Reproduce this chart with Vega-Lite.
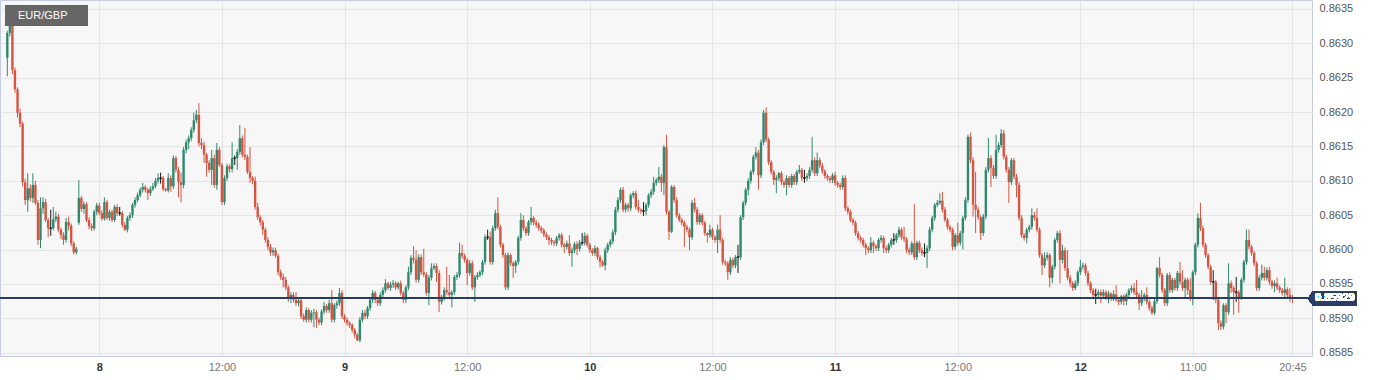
{
"$schema":"https://vega.github.io/schema/vega-lite/v6.json",
"width":1312,"height":356,
"autosize":{"type":"none"},
"padding":{"left":0,"top":0,"right":70,"bottom":24},
"background":"#ffffff",
"config":{"view":{"fill":"#f7f7f7","stroke":"#c6cce6","strokeWidth":1},"font":"Liberation Sans",
 "axis":{"labelFontSize":11,"ticks":false,"domain":false,"grid":true,"gridColor":"#e4e4e4","labelFlush":false,"labelOverlap":false}},
"data":{"values":[
{"i":-36,"o":0.86279,"h":0.86318,"l":0.86252,"c":0.86315},
{"i":-35,"o":0.86315,"h":0.86356,"l":0.8631,"c":0.86335},
{"i":-34,"o":0.86335,"h":0.8634,"l":0.86255,"c":0.86261},
{"i":-33,"o":0.86261,"h":0.86265,"l":0.86228,"c":0.86233},
{"i":-32,"o":0.86233,"h":0.86236,"l":0.86192,"c":0.86199},
{"i":-31,"o":0.86199,"h":0.86205,"l":0.86178,"c":0.86183},
{"i":-30,"o":0.86183,"h":0.86186,"l":0.86092,"c":0.86098},
{"i":-29,"o":0.86098,"h":0.86103,"l":0.86065,"c":0.86072},
{"i":-28,"o":0.86072,"h":0.86111,"l":0.86055,"c":0.86089},
{"i":-27,"o":0.86089,"h":0.86095,"l":0.8607,"c":0.86075},
{"i":-26,"o":0.86075,"h":0.86111,"l":0.86068,"c":0.86094},
{"i":-25,"o":0.86094,"h":0.861,"l":0.86065,"c":0.86068},
{"i":-24,"o":0.86068,"h":0.86072,"l":0.86007,"c":0.86014},
{"i":-23,"o":0.86014,"h":0.86076,"l":0.86002,"c":0.8606},
{"i":-22,"o":0.8606,"h":0.86076,"l":0.86052,"c":0.86069},
{"i":-21,"o":0.86069,"h":0.86074,"l":0.8604,"c":0.86043},
{"i":-20,"o":0.86043,"h":0.86046,"l":0.86018,"c":0.86031},
{"i":-19,"o":0.86031,"h":0.86058,"l":0.8602,"c":0.86031},
{"i":-18,"o":0.86031,"h":0.86062,"l":0.86028,"c":0.86044},
{"i":-17,"o":0.86044,"h":0.86055,"l":0.8604,"c":0.86048},
{"i":-16,"o":0.86048,"h":0.86052,"l":0.86025,"c":0.86029},
{"i":-15,"o":0.86029,"h":0.86032,"l":0.86015,"c":0.86021},
{"i":-14,"o":0.86021,"h":0.86025,"l":0.86007,"c":0.86014},
{"i":-13,"o":0.86014,"h":0.86046,"l":0.8601,"c":0.8604},
{"i":-12,"o":0.8604,"h":0.86048,"l":0.86028,"c":0.86035},
{"i":-11,"o":0.86035,"h":0.86038,"l":0.86005,"c":0.86009},
{"i":-10,"o":0.86009,"h":0.86012,"l":0.85993,"c":0.85996},
{"i":-9,"o":0.85996,"h":0.86004,"l":0.85993,"c":0.86001},
{"i":-8,"o":0.86039,"h":0.86101,"l":0.86036,"c":0.86075},
{"i":-7,"o":0.86075,"h":0.86078,"l":0.86055,"c":0.86059},
{"i":-6,"o":0.86059,"h":0.8607,"l":0.86052,"c":0.86066},
{"i":-5,"o":0.86066,"h":0.86069,"l":0.8604,"c":0.86043},
{"i":-4,"o":0.86043,"h":0.86047,"l":0.8603,"c":0.86034},
{"i":-3,"o":0.86034,"h":0.86038,"l":0.86027,"c":0.86031},
{"i":-2,"o":0.86031,"h":0.86058,"l":0.86028,"c":0.86055},
{"i":-1,"o":0.86055,"h":0.86068,"l":0.8605,"c":0.86064},
{"i":0,"o":0.86064,"h":0.86068,"l":0.8605,"c":0.86053},
{"i":1,"o":0.86053,"h":0.86057,"l":0.86042,"c":0.86045},
{"i":2,"o":0.86045,"h":0.86076,"l":0.86042,"c":0.86069},
{"i":3,"o":0.86069,"h":0.86072,"l":0.86043,"c":0.86046},
{"i":4,"o":0.86046,"h":0.86058,"l":0.86042,"c":0.86055},
{"i":5,"o":0.86055,"h":0.86058,"l":0.8604,"c":0.86043},
{"i":6,"o":0.86043,"h":0.86065,"l":0.8604,"c":0.86062},
{"i":7,"o":0.86062,"h":0.86066,"l":0.86049,"c":0.86053},
{"i":8,"o":0.86053,"h":0.86062,"l":0.86049,"c":0.86053},
{"i":9,"o":0.86053,"h":0.86056,"l":0.86032,"c":0.86036},
{"i":10,"o":0.86036,"h":0.8604,"l":0.86027,"c":0.86029},
{"i":11,"o":0.86029,"h":0.86049,"l":0.86025,"c":0.86046},
{"i":12,"o":0.86046,"h":0.86054,"l":0.86042,"c":0.8605},
{"i":13,"o":0.8605,"h":0.86068,"l":0.86046,"c":0.86065},
{"i":14,"o":0.86065,"h":0.86076,"l":0.86061,"c":0.86072},
{"i":15,"o":0.86072,"h":0.86083,"l":0.86069,"c":0.86079},
{"i":16,"o":0.86079,"h":0.8609,"l":0.86076,"c":0.86087},
{"i":17,"o":0.86087,"h":0.86097,"l":0.86083,"c":0.86091},
{"i":18,"o":0.86091,"h":0.86094,"l":0.86083,"c":0.86087},
{"i":19,"o":0.86087,"h":0.8609,"l":0.86072,"c":0.86082},
{"i":20,"o":0.86082,"h":0.86092,"l":0.86078,"c":0.86088},
{"i":21,"o":0.86088,"h":0.86097,"l":0.86085,"c":0.86092},
{"i":22,"o":0.86092,"h":0.86104,"l":0.86089,"c":0.861},
{"i":23,"o":0.861,"h":0.86111,"l":0.86096,"c":0.86104},
{"i":24,"o":0.86104,"h":0.86112,"l":0.86096,"c":0.86104},
{"i":25,"o":0.86104,"h":0.86107,"l":0.86085,"c":0.86088},
{"i":26,"o":0.86088,"h":0.8609,"l":0.86084,"c":0.86086},
{"i":27,"o":0.86086,"h":0.86111,"l":0.86083,"c":0.86104},
{"i":28,"o":0.86104,"h":0.86108,"l":0.86084,"c":0.86092},
{"i":29,"o":0.86092,"h":0.86137,"l":0.86088,"c":0.86133},
{"i":30,"o":0.86133,"h":0.86136,"l":0.86112,"c":0.86116},
{"i":31,"o":0.86116,"h":0.8612,"l":0.86076,"c":0.86098},
{"i":32,"o":0.86098,"h":0.86112,"l":0.86069,"c":0.86094},
{"i":33,"o":0.86094,"h":0.86149,"l":0.86089,"c":0.86145},
{"i":34,"o":0.86145,"h":0.8616,"l":0.8614,"c":0.86156},
{"i":35,"o":0.86156,"h":0.86166,"l":0.86146,"c":0.86162},
{"i":36,"o":0.86162,"h":0.86178,"l":0.86158,"c":0.86174},
{"i":37,"o":0.86174,"h":0.86199,"l":0.8617,"c":0.86188},
{"i":38,"o":0.86188,"h":0.86203,"l":0.86184,"c":0.86196},
{"i":39,"o":0.86196,"h":0.86213,"l":0.8615,"c":0.86155},
{"i":40,"o":0.86155,"h":0.86162,"l":0.86146,"c":0.86152},
{"i":41,"o":0.86152,"h":0.86157,"l":0.86126,"c":0.86138},
{"i":42,"o":0.86138,"h":0.86141,"l":0.86106,"c":0.86126},
{"i":43,"o":0.86126,"h":0.8613,"l":0.86112,"c":0.86116},
{"i":44,"o":0.86116,"h":0.86145,"l":0.86094,"c":0.86133},
{"i":45,"o":0.86133,"h":0.86138,"l":0.8609,"c":0.86094},
{"i":46,"o":0.86094,"h":0.86155,"l":0.86087,"c":0.86145},
{"i":47,"o":0.86145,"h":0.86149,"l":0.8612,"c":0.86123},
{"i":48,"o":0.86123,"h":0.86126,"l":0.86065,"c":0.86069},
{"i":49,"o":0.86069,"h":0.86108,"l":0.86065,"c":0.86104},
{"i":50,"o":0.86104,"h":0.86125,"l":0.861,"c":0.86121},
{"i":51,"o":0.86121,"h":0.86124,"l":0.86112,"c":0.86117},
{"i":52,"o":0.86117,"h":0.86156,"l":0.86112,"c":0.86133},
{"i":53,"o":0.86133,"h":0.86137,"l":0.86123,"c":0.86133},
{"i":54,"o":0.86133,"h":0.86146,"l":0.86116,"c":0.86142},
{"i":55,"o":0.86142,"h":0.86181,"l":0.86138,"c":0.86162},
{"i":56,"o":0.86162,"h":0.86166,"l":0.86134,"c":0.86138},
{"i":57,"o":0.86138,"h":0.86177,"l":0.8613,"c":0.86135},
{"i":58,"o":0.86135,"h":0.86138,"l":0.8611,"c":0.86113},
{"i":59,"o":0.86113,"h":0.86149,"l":0.86097,"c":0.86104},
{"i":60,"o":0.86104,"h":0.86107,"l":0.86095,"c":0.861},
{"i":61,"o":0.861,"h":0.86106,"l":0.86058,"c":0.86062},
{"i":62,"o":0.86062,"h":0.86068,"l":0.86043,"c":0.86047},
{"i":63,"o":0.86047,"h":0.8605,"l":0.86035,"c":0.8604},
{"i":64,"o":0.8604,"h":0.86043,"l":0.86021,"c":0.86029},
{"i":65,"o":0.86029,"h":0.86032,"l":0.8601,"c":0.86014},
{"i":66,"o":0.86014,"h":0.86018,"l":0.85999,"c":0.86004},
{"i":67,"o":0.86004,"h":0.86008,"l":0.85991,"c":0.85996},
{"i":68,"o":0.85996,"h":0.86003,"l":0.85991,"c":0.85999},
{"i":69,"o":0.85999,"h":0.86003,"l":0.85988,"c":0.85991},
{"i":70,"o":0.85991,"h":0.85994,"l":0.85963,"c":0.85967},
{"i":71,"o":0.85967,"h":0.85971,"l":0.85956,"c":0.8596},
{"i":72,"o":0.8596,"h":0.85965,"l":0.85945,"c":0.85956},
{"i":73,"o":0.85956,"h":0.8596,"l":0.85941,"c":0.85945},
{"i":74,"o":0.85945,"h":0.85948,"l":0.85924,"c":0.85931},
{"i":75,"o":0.85931,"h":0.85938,"l":0.85922,"c":0.85934},
{"i":76,"o":0.85934,"h":0.85938,"l":0.85923,"c":0.85927},
{"i":77,"o":0.85927,"h":0.85938,"l":0.85918,"c":0.85922},
{"i":78,"o":0.85922,"h":0.85929,"l":0.85917,"c":0.85926},
{"i":79,"o":0.85926,"h":0.85929,"l":0.85899,"c":0.85903},
{"i":80,"o":0.85903,"h":0.85907,"l":0.85895,"c":0.85898},
{"i":81,"o":0.85898,"h":0.85916,"l":0.85894,"c":0.85912},
{"i":82,"o":0.85912,"h":0.85915,"l":0.85894,"c":0.85898},
{"i":83,"o":0.85898,"h":0.85912,"l":0.85894,"c":0.85908},
{"i":84,"o":0.85908,"h":0.85914,"l":0.85887,"c":0.85909},
{"i":85,"o":0.85909,"h":0.85912,"l":0.85886,"c":0.85898},
{"i":86,"o":0.85898,"h":0.85901,"l":0.8589,"c":0.85894},
{"i":87,"o":0.85894,"h":0.85913,"l":0.8589,"c":0.8591},
{"i":88,"o":0.8591,"h":0.85924,"l":0.85906,"c":0.85918},
{"i":89,"o":0.85918,"h":0.85921,"l":0.85908,"c":0.85912},
{"i":90,"o":0.85912,"h":0.85927,"l":0.85908,"c":0.85922},
{"i":91,"o":0.85922,"h":0.85941,"l":0.85894,"c":0.85898},
{"i":92,"o":0.85898,"h":0.85922,"l":0.85894,"c":0.85919},
{"i":93,"o":0.85919,"h":0.85926,"l":0.85914,"c":0.85922},
{"i":94,"o":0.85922,"h":0.85944,"l":0.85918,"c":0.85937},
{"i":95,"o":0.85937,"h":0.85941,"l":0.85899,"c":0.85903},
{"i":96,"o":0.85903,"h":0.85906,"l":0.85894,"c":0.85898},
{"i":97,"o":0.85898,"h":0.85901,"l":0.85889,"c":0.85893},
{"i":98,"o":0.85893,"h":0.85896,"l":0.85886,"c":0.8589},
{"i":99,"o":0.8589,"h":0.85893,"l":0.85879,"c":0.85883},
{"i":100,"o":0.85883,"h":0.85886,"l":0.85871,"c":0.85876},
{"i":101,"o":0.85876,"h":0.85879,"l":0.85867,"c":0.85868},
{"i":102,"o":0.85868,"h":0.85902,"l":0.85865,"c":0.85898},
{"i":103,"o":0.85898,"h":0.85912,"l":0.85894,"c":0.85908},
{"i":104,"o":0.85908,"h":0.85912,"l":0.85899,"c":0.85903},
{"i":105,"o":0.85903,"h":0.85918,"l":0.85899,"c":0.85915},
{"i":106,"o":0.85915,"h":0.8593,"l":0.85911,"c":0.85927},
{"i":107,"o":0.85927,"h":0.85941,"l":0.85922,"c":0.85937},
{"i":108,"o":0.85937,"h":0.8594,"l":0.85922,"c":0.85927},
{"i":109,"o":0.85927,"h":0.8593,"l":0.85918,"c":0.85922},
{"i":110,"o":0.85922,"h":0.85938,"l":0.85918,"c":0.85934},
{"i":111,"o":0.85934,"h":0.85945,"l":0.8593,"c":0.85941},
{"i":112,"o":0.85941,"h":0.85957,"l":0.85937,"c":0.85951},
{"i":113,"o":0.85951,"h":0.85953,"l":0.85941,"c":0.85944},
{"i":114,"o":0.85944,"h":0.85953,"l":0.8594,"c":0.85949},
{"i":115,"o":0.85949,"h":0.85956,"l":0.85944,"c":0.85951},
{"i":116,"o":0.85951,"h":0.85954,"l":0.85941,"c":0.85945},
{"i":117,"o":0.85945,"h":0.85953,"l":0.85942,"c":0.85951},
{"i":118,"o":0.85951,"h":0.85955,"l":0.85933,"c":0.85937},
{"i":119,"o":0.85937,"h":0.8594,"l":0.85922,"c":0.85927},
{"i":120,"o":0.85927,"h":0.85948,"l":0.85922,"c":0.85945},
{"i":121,"o":0.85945,"h":0.85975,"l":0.85941,"c":0.85967},
{"i":122,"o":0.85967,"h":0.85992,"l":0.85963,"c":0.85988},
{"i":123,"o":0.85988,"h":0.86005,"l":0.8598,"c":0.85985},
{"i":124,"o":0.85985,"h":0.85999,"l":0.85952,"c":0.85956},
{"i":125,"o":0.85956,"h":0.85993,"l":0.85952,"c":0.85989},
{"i":126,"o":0.85989,"h":0.85993,"l":0.85963,"c":0.85967},
{"i":127,"o":0.85967,"h":0.86001,"l":0.8596,"c":0.85964},
{"i":128,"o":0.85964,"h":0.85967,"l":0.85933,"c":0.85937},
{"i":129,"o":0.85937,"h":0.85963,"l":0.85919,"c":0.85959},
{"i":130,"o":0.85959,"h":0.8598,"l":0.85955,"c":0.85973},
{"i":131,"o":0.85973,"h":0.8598,"l":0.8597,"c":0.85976},
{"i":132,"o":0.85976,"h":0.8598,"l":0.85953,"c":0.85966},
{"i":133,"o":0.85966,"h":0.8597,"l":0.85909,"c":0.85924},
{"i":134,"o":0.85924,"h":0.85934,"l":0.8592,"c":0.8593},
{"i":135,"o":0.8593,"h":0.85945,"l":0.85926,"c":0.85941},
{"i":136,"o":0.85941,"h":0.85975,"l":0.85934,"c":0.85938},
{"i":137,"o":0.85938,"h":0.85963,"l":0.85931,"c":0.85934},
{"i":138,"o":0.85934,"h":0.85941,"l":0.85916,"c":0.85938},
{"i":139,"o":0.85938,"h":0.85963,"l":0.85934,"c":0.8596},
{"i":140,"o":0.8596,"h":0.85967,"l":0.85956,"c":0.85963},
{"i":141,"o":0.85963,"h":0.8601,"l":0.85959,"c":0.85995},
{"i":142,"o":0.85995,"h":0.86007,"l":0.85987,"c":0.85991},
{"i":143,"o":0.85991,"h":0.85994,"l":0.85981,"c":0.85985},
{"i":144,"o":0.85985,"h":0.85988,"l":0.85948,"c":0.85966},
{"i":145,"o":0.85966,"h":0.85985,"l":0.85962,"c":0.8598},
{"i":146,"o":0.8598,"h":0.85984,"l":0.85941,"c":0.85945},
{"i":147,"o":0.85945,"h":0.85963,"l":0.85924,"c":0.8596},
{"i":148,"o":0.8596,"h":0.85967,"l":0.85956,"c":0.85963},
{"i":149,"o":0.85963,"h":0.8597,"l":0.8596,"c":0.85967},
{"i":150,"o":0.85967,"h":0.85985,"l":0.85963,"c":0.85982},
{"i":151,"o":0.85982,"h":0.86022,"l":0.85978,"c":0.86018},
{"i":152,"o":0.86018,"h":0.86029,"l":0.86014,"c":0.86018},
{"i":153,"o":0.86018,"h":0.86026,"l":0.85978,"c":0.85982},
{"i":154,"o":0.85982,"h":0.86035,"l":0.85978,"c":0.86031},
{"i":155,"o":0.86031,"h":0.86058,"l":0.86027,"c":0.86053},
{"i":156,"o":0.86053,"h":0.86076,"l":0.86029,"c":0.86033},
{"i":157,"o":0.86033,"h":0.86036,"l":0.86003,"c":0.86007},
{"i":158,"o":0.86007,"h":0.8601,"l":0.85988,"c":0.85992},
{"i":159,"o":0.85992,"h":0.85995,"l":0.85941,"c":0.85945},
{"i":160,"o":0.85945,"h":0.85996,"l":0.85941,"c":0.85992},
{"i":161,"o":0.85992,"h":0.85994,"l":0.85976,"c":0.8598},
{"i":162,"o":0.8598,"h":0.85983,"l":0.85959,"c":0.85976},
{"i":163,"o":0.85976,"h":0.85985,"l":0.85966,"c":0.85982},
{"i":164,"o":0.85982,"h":0.8602,"l":0.85978,"c":0.86017},
{"i":165,"o":0.86017,"h":0.86053,"l":0.86013,"c":0.86043},
{"i":166,"o":0.86043,"h":0.8605,"l":0.86027,"c":0.86031},
{"i":167,"o":0.86031,"h":0.86034,"l":0.8602,"c":0.86024},
{"i":168,"o":0.86024,"h":0.86043,"l":0.8602,"c":0.8604},
{"i":169,"o":0.8604,"h":0.86062,"l":0.86036,"c":0.86046},
{"i":170,"o":0.86046,"h":0.86049,"l":0.86035,"c":0.86039},
{"i":171,"o":0.86039,"h":0.86043,"l":0.86032,"c":0.86036},
{"i":172,"o":0.86036,"h":0.8604,"l":0.86027,"c":0.86031},
{"i":173,"o":0.86031,"h":0.86034,"l":0.86024,"c":0.86028},
{"i":174,"o":0.86028,"h":0.86031,"l":0.86018,"c":0.86022},
{"i":175,"o":0.86022,"h":0.86025,"l":0.86014,"c":0.86018},
{"i":176,"o":0.86018,"h":0.86021,"l":0.86007,"c":0.86014},
{"i":177,"o":0.86014,"h":0.86017,"l":0.86007,"c":0.86011},
{"i":178,"o":0.86011,"h":0.86014,"l":0.86005,"c":0.86009},
{"i":179,"o":0.86009,"h":0.8602,"l":0.86005,"c":0.86017},
{"i":180,"o":0.86017,"h":0.86024,"l":0.86013,"c":0.86021},
{"i":181,"o":0.86021,"h":0.86024,"l":0.86003,"c":0.86007},
{"i":182,"o":0.86007,"h":0.8601,"l":0.85995,"c":0.86004},
{"i":183,"o":0.86004,"h":0.86013,"l":0.86,"c":0.86009},
{"i":184,"o":0.86009,"h":0.86021,"l":0.85991,"c":0.85995},
{"i":185,"o":0.85995,"h":0.86003,"l":0.85975,"c":0.85999},
{"i":186,"o":0.85999,"h":0.86011,"l":0.85995,"c":0.86008},
{"i":187,"o":0.86008,"h":0.86012,"l":0.85992,"c":0.86001},
{"i":188,"o":0.86001,"h":0.86014,"l":0.85997,"c":0.8601},
{"i":189,"o":0.8601,"h":0.86024,"l":0.86006,"c":0.8601},
{"i":190,"o":0.8601,"h":0.86025,"l":0.86006,"c":0.8602},
{"i":191,"o":0.8602,"h":0.86023,"l":0.86003,"c":0.86007},
{"i":192,"o":0.86007,"h":0.8601,"l":0.85995,"c":0.85999},
{"i":193,"o":0.85999,"h":0.86002,"l":0.85991,"c":0.85995},
{"i":194,"o":0.85995,"h":0.86006,"l":0.85991,"c":0.86002},
{"i":195,"o":0.86002,"h":0.86004,"l":0.85985,"c":0.85989},
{"i":196,"o":0.85989,"h":0.85992,"l":0.85974,"c":0.85982},
{"i":197,"o":0.85982,"h":0.85985,"l":0.85975,"c":0.85977},
{"i":198,"o":0.85977,"h":0.86003,"l":0.8597,"c":0.85999},
{"i":199,"o":0.85999,"h":0.8601,"l":0.85995,"c":0.86007},
{"i":200,"o":0.86007,"h":0.86015,"l":0.86003,"c":0.86012},
{"i":201,"o":0.86012,"h":0.86029,"l":0.86008,"c":0.86025},
{"i":202,"o":0.86025,"h":0.86062,"l":0.86021,"c":0.86058},
{"i":203,"o":0.86058,"h":0.86076,"l":0.86054,"c":0.86072},
{"i":204,"o":0.86072,"h":0.8609,"l":0.86068,"c":0.86087},
{"i":205,"o":0.86087,"h":0.86091,"l":0.86054,"c":0.86058},
{"i":206,"o":0.86058,"h":0.86068,"l":0.86054,"c":0.86065},
{"i":207,"o":0.86065,"h":0.86068,"l":0.86055,"c":0.8606},
{"i":208,"o":0.8606,"h":0.86082,"l":0.86056,"c":0.86079},
{"i":209,"o":0.86079,"h":0.86085,"l":0.86075,"c":0.86082},
{"i":210,"o":0.86082,"h":0.86086,"l":0.86058,"c":0.86062},
{"i":211,"o":0.86062,"h":0.86072,"l":0.86054,"c":0.86058},
{"i":212,"o":0.86058,"h":0.8606,"l":0.86052,"c":0.86056},
{"i":213,"o":0.86056,"h":0.86069,"l":0.86049,"c":0.86056},
{"i":214,"o":0.86056,"h":0.86068,"l":0.8605,"c":0.86065},
{"i":215,"o":0.86065,"h":0.86082,"l":0.86061,"c":0.86079},
{"i":216,"o":0.86079,"h":0.86088,"l":0.86075,"c":0.86084},
{"i":217,"o":0.86084,"h":0.86106,"l":0.8608,"c":0.86097},
{"i":218,"o":0.86097,"h":0.86104,"l":0.86093,"c":0.86101},
{"i":219,"o":0.86101,"h":0.8612,"l":0.86097,"c":0.86106},
{"i":220,"o":0.86106,"h":0.8611,"l":0.86084,"c":0.86097},
{"i":221,"o":0.86097,"h":0.86152,"l":0.86079,"c":0.86149},
{"i":222,"o":0.86149,"h":0.86167,"l":0.86051,"c":0.86055},
{"i":223,"o":0.86055,"h":0.86058,"l":0.86014,"c":0.86026},
{"i":224,"o":0.86026,"h":0.86094,"l":0.86024,"c":0.86091},
{"i":225,"o":0.86091,"h":0.86094,"l":0.86068,"c":0.86072},
{"i":226,"o":0.86072,"h":0.86076,"l":0.86046,"c":0.8605},
{"i":227,"o":0.8605,"h":0.86053,"l":0.8604,"c":0.86043},
{"i":228,"o":0.86043,"h":0.86046,"l":0.86035,"c":0.86039},
{"i":229,"o":0.86039,"h":0.86042,"l":0.86004,"c":0.86033},
{"i":230,"o":0.86033,"h":0.86036,"l":0.86025,"c":0.86029},
{"i":231,"o":0.86029,"h":0.86032,"l":0.85999,"c":0.86018},
{"i":232,"o":0.86018,"h":0.86072,"l":0.86014,"c":0.86068},
{"i":233,"o":0.86068,"h":0.86075,"l":0.86054,"c":0.86058},
{"i":234,"o":0.86058,"h":0.86062,"l":0.86036,"c":0.8604},
{"i":235,"o":0.8604,"h":0.86053,"l":0.86036,"c":0.8605},
{"i":236,"o":0.8605,"h":0.86053,"l":0.86035,"c":0.86039},
{"i":237,"o":0.86039,"h":0.86042,"l":0.8602,"c":0.86024},
{"i":238,"o":0.86024,"h":0.86025,"l":0.8601,"c":0.86021},
{"i":239,"o":0.86021,"h":0.86036,"l":0.86017,"c":0.86029},
{"i":240,"o":0.86029,"h":0.86032,"l":0.86014,"c":0.86018},
{"i":241,"o":0.86018,"h":0.86021,"l":0.8601,"c":0.86014},
{"i":242,"o":0.86014,"h":0.86036,"l":0.85995,"c":0.86029},
{"i":243,"o":0.86029,"h":0.8605,"l":0.8601,"c":0.86014},
{"i":244,"o":0.86014,"h":0.86017,"l":0.85978,"c":0.85982},
{"i":245,"o":0.85982,"h":0.85985,"l":0.85976,"c":0.8598},
{"i":246,"o":0.8598,"h":0.85983,"l":0.85956,"c":0.85967},
{"i":247,"o":0.85967,"h":0.85989,"l":0.85963,"c":0.85985},
{"i":248,"o":0.85985,"h":0.85988,"l":0.85973,"c":0.85977},
{"i":249,"o":0.85977,"h":0.85992,"l":0.85973,"c":0.85989},
{"i":250,"o":0.85989,"h":0.86007,"l":0.85966,"c":0.85989},
{"i":251,"o":0.85989,"h":0.8605,"l":0.85985,"c":0.86047},
{"i":252,"o":0.86047,"h":0.86071,"l":0.86043,"c":0.86068},
{"i":253,"o":0.86068,"h":0.8609,"l":0.86064,"c":0.86087},
{"i":254,"o":0.86087,"h":0.86104,"l":0.86079,"c":0.861},
{"i":255,"o":0.861,"h":0.86116,"l":0.86096,"c":0.86113},
{"i":256,"o":0.86113,"h":0.86138,"l":0.86109,"c":0.86135},
{"i":257,"o":0.86135,"h":0.86149,"l":0.86131,"c":0.86141},
{"i":258,"o":0.86141,"h":0.86145,"l":0.86087,"c":0.86108},
{"i":259,"o":0.86108,"h":0.8616,"l":0.86104,"c":0.86156},
{"i":260,"o":0.86156,"h":0.86203,"l":0.86152,"c":0.86199},
{"i":261,"o":0.86199,"h":0.86207,"l":0.86156,"c":0.8616},
{"i":262,"o":0.8616,"h":0.86163,"l":0.86123,"c":0.86127},
{"i":263,"o":0.86127,"h":0.8613,"l":0.86109,"c":0.86113},
{"i":264,"o":0.86113,"h":0.86116,"l":0.86094,"c":0.86101},
{"i":265,"o":0.86101,"h":0.86108,"l":0.86082,"c":0.86104},
{"i":266,"o":0.86104,"h":0.86113,"l":0.861,"c":0.86111},
{"i":267,"o":0.86111,"h":0.86114,"l":0.86094,"c":0.86098},
{"i":268,"o":0.86098,"h":0.86101,"l":0.8609,"c":0.86094},
{"i":269,"o":0.86094,"h":0.86108,"l":0.86079,"c":0.86104},
{"i":270,"o":0.86104,"h":0.86107,"l":0.8609,"c":0.86094},
{"i":271,"o":0.86094,"h":0.8611,"l":0.8609,"c":0.86107},
{"i":272,"o":0.86107,"h":0.8611,"l":0.86094,"c":0.86098},
{"i":273,"o":0.86098,"h":0.86116,"l":0.86094,"c":0.86113},
{"i":274,"o":0.86113,"h":0.86123,"l":0.8611,"c":0.86116},
{"i":275,"o":0.86116,"h":0.86119,"l":0.861,"c":0.86104},
{"i":276,"o":0.86104,"h":0.86116,"l":0.86097,"c":0.86104},
{"i":277,"o":0.86104,"h":0.86111,"l":0.861,"c":0.86107},
{"i":278,"o":0.86107,"h":0.8612,"l":0.86103,"c":0.86116},
{"i":279,"o":0.86116,"h":0.86164,"l":0.86112,"c":0.8613},
{"i":280,"o":0.8613,"h":0.86134,"l":0.86107,"c":0.86111},
{"i":281,"o":0.86111,"h":0.86141,"l":0.86107,"c":0.8613},
{"i":282,"o":0.8613,"h":0.86134,"l":0.86118,"c":0.86122},
{"i":283,"o":0.86122,"h":0.86126,"l":0.8611,"c":0.86114},
{"i":284,"o":0.86114,"h":0.86117,"l":0.86103,"c":0.86107},
{"i":285,"o":0.86107,"h":0.8611,"l":0.861,"c":0.86104},
{"i":286,"o":0.86104,"h":0.86107,"l":0.86097,"c":0.86101},
{"i":287,"o":0.86101,"h":0.86111,"l":0.86097,"c":0.86108},
{"i":288,"o":0.86108,"h":0.86113,"l":0.86093,"c":0.86097},
{"i":289,"o":0.86097,"h":0.861,"l":0.8609,"c":0.86094},
{"i":290,"o":0.86094,"h":0.86097,"l":0.86087,"c":0.86091},
{"i":291,"o":0.86091,"h":0.86108,"l":0.86087,"c":0.86104},
{"i":292,"o":0.86104,"h":0.86108,"l":0.86056,"c":0.8606},
{"i":293,"o":0.8606,"h":0.86063,"l":0.86051,"c":0.86055},
{"i":294,"o":0.86055,"h":0.86058,"l":0.8604,"c":0.86043},
{"i":295,"o":0.86043,"h":0.86046,"l":0.86035,"c":0.86039},
{"i":296,"o":0.86039,"h":0.86042,"l":0.8602,"c":0.86024},
{"i":297,"o":0.86024,"h":0.86027,"l":0.86013,"c":0.86017},
{"i":298,"o":0.86017,"h":0.8602,"l":0.8601,"c":0.86014},
{"i":299,"o":0.86014,"h":0.86017,"l":0.86003,"c":0.86007},
{"i":300,"o":0.86007,"h":0.8601,"l":0.85992,"c":0.86002},
{"i":301,"o":0.86002,"h":0.86005,"l":0.85995,"c":0.85999},
{"i":302,"o":0.85999,"h":0.86018,"l":0.85995,"c":0.8601},
{"i":303,"o":0.8601,"h":0.86013,"l":0.85995,"c":0.86005},
{"i":304,"o":0.86005,"h":0.86008,"l":0.85998,"c":0.86002},
{"i":305,"o":0.86002,"h":0.86017,"l":0.85998,"c":0.86014},
{"i":306,"o":0.86014,"h":0.86021,"l":0.8601,"c":0.86017},
{"i":307,"o":0.86017,"h":0.8602,"l":0.85995,"c":0.86002},
{"i":308,"o":0.86002,"h":0.86005,"l":0.85995,"c":0.85999},
{"i":309,"o":0.85999,"h":0.8601,"l":0.85995,"c":0.86007},
{"i":310,"o":0.86007,"h":0.86017,"l":0.86003,"c":0.86014},
{"i":311,"o":0.86014,"h":0.86024,"l":0.86007,"c":0.86014},
{"i":312,"o":0.86014,"h":0.86024,"l":0.8601,"c":0.86021},
{"i":313,"o":0.86021,"h":0.86033,"l":0.86017,"c":0.86029},
{"i":314,"o":0.86029,"h":0.86032,"l":0.86014,"c":0.86018},
{"i":315,"o":0.86018,"h":0.86033,"l":0.86011,"c":0.86015},
{"i":316,"o":0.86015,"h":0.86018,"l":0.85995,"c":0.85999},
{"i":317,"o":0.85999,"h":0.86003,"l":0.85992,"c":0.85996},
{"i":318,"o":0.85996,"h":0.86012,"l":0.85992,"c":0.86009},
{"i":319,"o":0.86009,"h":0.86066,"l":0.85985,"c":0.85989},
{"i":320,"o":0.85989,"h":0.86013,"l":0.85985,"c":0.8601},
{"i":321,"o":0.8601,"h":0.86013,"l":0.85995,"c":0.85999},
{"i":322,"o":0.85999,"h":0.86003,"l":0.85991,"c":0.85995},
{"i":323,"o":0.85995,"h":0.86009,"l":0.85989,"c":0.85995},
{"i":324,"o":0.85995,"h":0.86006,"l":0.85973,"c":0.86002},
{"i":325,"o":0.86002,"h":0.86033,"l":0.85998,"c":0.86029},
{"i":326,"o":0.86029,"h":0.86049,"l":0.86025,"c":0.86046},
{"i":327,"o":0.86046,"h":0.86068,"l":0.86042,"c":0.86065},
{"i":328,"o":0.86065,"h":0.86072,"l":0.86062,"c":0.86068},
{"i":329,"o":0.86068,"h":0.86082,"l":0.86065,"c":0.86071},
{"i":330,"o":0.86071,"h":0.86084,"l":0.86054,"c":0.86058},
{"i":331,"o":0.86058,"h":0.86062,"l":0.8604,"c":0.86043},
{"i":332,"o":0.86043,"h":0.86046,"l":0.86029,"c":0.86033},
{"i":333,"o":0.86033,"h":0.86036,"l":0.86025,"c":0.86029},
{"i":334,"o":0.86029,"h":0.86032,"l":0.85999,"c":0.86004},
{"i":335,"o":0.86004,"h":0.86024,"l":0.86,"c":0.86021},
{"i":336,"o":0.86021,"h":0.86039,"l":0.86006,"c":0.8601},
{"i":337,"o":0.8601,"h":0.86027,"l":0.86006,"c":0.86024},
{"i":338,"o":0.86024,"h":0.86049,"l":0.86,"c":0.86046},
{"i":339,"o":0.86046,"h":0.86076,"l":0.86042,"c":0.86072},
{"i":340,"o":0.86072,"h":0.86167,"l":0.86068,"c":0.86164},
{"i":341,"o":0.86164,"h":0.8617,"l":0.86126,"c":0.8613},
{"i":342,"o":0.8613,"h":0.86134,"l":0.86048,"c":0.86065},
{"i":343,"o":0.86065,"h":0.86113,"l":0.86024,"c":0.86058},
{"i":344,"o":0.86058,"h":0.86062,"l":0.86043,"c":0.86047},
{"i":345,"o":0.86047,"h":0.8605,"l":0.86014,"c":0.86024},
{"i":346,"o":0.86024,"h":0.86052,"l":0.8602,"c":0.86048},
{"i":347,"o":0.86048,"h":0.8612,"l":0.86044,"c":0.86116},
{"i":348,"o":0.86116,"h":0.86162,"l":0.86112,"c":0.86133},
{"i":349,"o":0.86133,"h":0.86137,"l":0.86091,"c":0.86119},
{"i":350,"o":0.86119,"h":0.86123,"l":0.86103,"c":0.86107},
{"i":351,"o":0.86107,"h":0.86167,"l":0.86103,"c":0.86145},
{"i":352,"o":0.86145,"h":0.86156,"l":0.86141,"c":0.86152},
{"i":353,"o":0.86152,"h":0.86175,"l":0.86148,"c":0.86169},
{"i":354,"o":0.86169,"h":0.86174,"l":0.86131,"c":0.86135},
{"i":355,"o":0.86135,"h":0.86138,"l":0.86112,"c":0.86116},
{"i":356,"o":0.86116,"h":0.8612,"l":0.86068,"c":0.86098},
{"i":357,"o":0.86098,"h":0.86133,"l":0.86094,"c":0.8613},
{"i":358,"o":0.8613,"h":0.86133,"l":0.86102,"c":0.86106},
{"i":359,"o":0.86106,"h":0.8611,"l":0.86076,"c":0.86094},
{"i":360,"o":0.86094,"h":0.86098,"l":0.86042,"c":0.86046},
{"i":361,"o":0.86046,"h":0.8605,"l":0.86017,"c":0.86021},
{"i":362,"o":0.86021,"h":0.86024,"l":0.86013,"c":0.86017},
{"i":363,"o":0.86017,"h":0.86032,"l":0.86009,"c":0.86029},
{"i":364,"o":0.86029,"h":0.86036,"l":0.86025,"c":0.86033},
{"i":365,"o":0.86033,"h":0.8606,"l":0.86029,"c":0.8605},
{"i":366,"o":0.8605,"h":0.86055,"l":0.86042,"c":0.86046},
{"i":367,"o":0.86046,"h":0.8606,"l":0.86025,"c":0.86029},
{"i":368,"o":0.86029,"h":0.86032,"l":0.85988,"c":0.85992},
{"i":369,"o":0.85992,"h":0.85995,"l":0.85963,"c":0.85977},
{"i":370,"o":0.85977,"h":0.85996,"l":0.85973,"c":0.85988},
{"i":371,"o":0.85988,"h":0.85996,"l":0.85984,"c":0.85992},
{"i":372,"o":0.85992,"h":0.85995,"l":0.85945,"c":0.85959},
{"i":373,"o":0.85959,"h":0.85978,"l":0.85951,"c":0.85975},
{"i":374,"o":0.85975,"h":0.86017,"l":0.85971,"c":0.86014},
{"i":375,"o":0.86014,"h":0.86027,"l":0.8601,"c":0.86024},
{"i":376,"o":0.86024,"h":0.86028,"l":0.85951,"c":0.85985},
{"i":377,"o":0.85985,"h":0.86007,"l":0.8598,"c":0.85999},
{"i":378,"o":0.85999,"h":0.86003,"l":0.85969,"c":0.85973},
{"i":379,"o":0.85973,"h":0.85999,"l":0.85955,"c":0.85959},
{"i":380,"o":0.85959,"h":0.85963,"l":0.85946,"c":0.85951},
{"i":381,"o":0.85951,"h":0.85954,"l":0.8594,"c":0.85944},
{"i":382,"o":0.85944,"h":0.85955,"l":0.85941,"c":0.85951},
{"i":383,"o":0.85951,"h":0.8597,"l":0.85947,"c":0.85967},
{"i":384,"o":0.85967,"h":0.85985,"l":0.85963,"c":0.85975},
{"i":385,"o":0.85975,"h":0.85981,"l":0.85971,"c":0.85977},
{"i":386,"o":0.85977,"h":0.8598,"l":0.85962,"c":0.85966},
{"i":387,"o":0.85966,"h":0.85969,"l":0.85947,"c":0.85951},
{"i":388,"o":0.85951,"h":0.85954,"l":0.85937,"c":0.85941},
{"i":389,"o":0.85941,"h":0.85944,"l":0.8593,"c":0.85934},
{"i":390,"o":0.85934,"h":0.85943,"l":0.85921,"c":0.85934},
{"i":391,"o":0.85934,"h":0.85942,"l":0.8593,"c":0.85938},
{"i":392,"o":0.85938,"h":0.85942,"l":0.85922,"c":0.85933},
{"i":393,"o":0.85933,"h":0.85942,"l":0.85929,"c":0.85938},
{"i":394,"o":0.85938,"h":0.85941,"l":0.85927,"c":0.85931},
{"i":395,"o":0.85931,"h":0.8594,"l":0.85922,"c":0.85936},
{"i":396,"o":0.85936,"h":0.85938,"l":0.85925,"c":0.85929},
{"i":397,"o":0.85929,"h":0.85941,"l":0.85925,"c":0.85935},
{"i":398,"o":0.85935,"h":0.85948,"l":0.85924,"c":0.85927},
{"i":399,"o":0.85927,"h":0.8593,"l":0.85919,"c":0.85924},
{"i":400,"o":0.85924,"h":0.85934,"l":0.8592,"c":0.85932},
{"i":401,"o":0.85932,"h":0.85935,"l":0.85919,"c":0.85925},
{"i":402,"o":0.85925,"h":0.85937,"l":0.85919,"c":0.85934},
{"i":403,"o":0.85934,"h":0.85944,"l":0.8593,"c":0.85941},
{"i":404,"o":0.85941,"h":0.85948,"l":0.85937,"c":0.85944},
{"i":405,"o":0.85944,"h":0.85951,"l":0.85934,"c":0.85938},
{"i":406,"o":0.85938,"h":0.85956,"l":0.8593,"c":0.85934},
{"i":407,"o":0.85934,"h":0.85937,"l":0.85912,"c":0.85922},
{"i":408,"o":0.85922,"h":0.85941,"l":0.85918,"c":0.85929},
{"i":409,"o":0.85929,"h":0.85937,"l":0.85925,"c":0.85934},
{"i":410,"o":0.85934,"h":0.85945,"l":0.8592,"c":0.85924},
{"i":411,"o":0.85924,"h":0.85927,"l":0.85911,"c":0.85915},
{"i":412,"o":0.85915,"h":0.85918,"l":0.85905,"c":0.85908},
{"i":413,"o":0.85908,"h":0.85929,"l":0.85905,"c":0.85925},
{"i":414,"o":0.85925,"h":0.85975,"l":0.85921,"c":0.85973},
{"i":415,"o":0.85973,"h":0.85989,"l":0.85959,"c":0.85963},
{"i":416,"o":0.85963,"h":0.85966,"l":0.85937,"c":0.85941},
{"i":417,"o":0.85941,"h":0.85944,"l":0.85918,"c":0.85922},
{"i":418,"o":0.85922,"h":0.85966,"l":0.85918,"c":0.85963},
{"i":419,"o":0.85963,"h":0.85967,"l":0.85937,"c":0.85941},
{"i":420,"o":0.85941,"h":0.85959,"l":0.85937,"c":0.85956},
{"i":421,"o":0.85956,"h":0.85959,"l":0.8594,"c":0.85944},
{"i":422,"o":0.85944,"h":0.85969,"l":0.8594,"c":0.85966},
{"i":423,"o":0.85966,"h":0.85982,"l":0.85949,"c":0.85953},
{"i":424,"o":0.85953,"h":0.8597,"l":0.8594,"c":0.85944},
{"i":425,"o":0.85944,"h":0.85959,"l":0.85931,"c":0.85956},
{"i":426,"o":0.85956,"h":0.85959,"l":0.85934,"c":0.85941},
{"i":427,"o":0.85941,"h":0.85958,"l":0.85925,"c":0.85929},
{"i":428,"o":0.85929,"h":0.8597,"l":0.85919,"c":0.85967},
{"i":429,"o":0.85967,"h":0.8601,"l":0.85963,"c":0.86007},
{"i":430,"o":0.86007,"h":0.86053,"l":0.86003,"c":0.86046},
{"i":431,"o":0.86046,"h":0.86068,"l":0.86027,"c":0.86031},
{"i":432,"o":0.86031,"h":0.86035,"l":0.86003,"c":0.86007},
{"i":433,"o":0.86007,"h":0.8601,"l":0.85988,"c":0.85992},
{"i":434,"o":0.85992,"h":0.85995,"l":0.85971,"c":0.85975},
{"i":435,"o":0.85975,"h":0.85978,"l":0.85949,"c":0.85953},
{"i":436,"o":0.85953,"h":0.8597,"l":0.85927,"c":0.85953},
{"i":437,"o":0.85953,"h":0.85956,"l":0.85922,"c":0.85927},
{"i":438,"o":0.85927,"h":0.8593,"l":0.85883,"c":0.85893},
{"i":439,"o":0.85893,"h":0.85897,"l":0.85883,"c":0.85888},
{"i":440,"o":0.85888,"h":0.85922,"l":0.85884,"c":0.85919},
{"i":441,"o":0.85919,"h":0.85922,"l":0.85893,"c":0.85909},
{"i":442,"o":0.85909,"h":0.8598,"l":0.85905,"c":0.85951},
{"i":443,"o":0.85951,"h":0.85955,"l":0.85937,"c":0.85944},
{"i":444,"o":0.85944,"h":0.85947,"l":0.85905,"c":0.85938},
{"i":445,"o":0.85938,"h":0.8596,"l":0.85924,"c":0.85938},
{"i":446,"o":0.85938,"h":0.85941,"l":0.85908,"c":0.85931},
{"i":447,"o":0.85931,"h":0.85959,"l":0.85927,"c":0.85956},
{"i":448,"o":0.85956,"h":0.85985,"l":0.85952,"c":0.85982},
{"i":449,"o":0.85982,"h":0.86029,"l":0.85978,"c":0.86014},
{"i":450,"o":0.86014,"h":0.86029,"l":0.86,"c":0.86004},
{"i":451,"o":0.86004,"h":0.86007,"l":0.85991,"c":0.85995},
{"i":452,"o":0.85995,"h":0.85998,"l":0.85976,"c":0.8598},
{"i":453,"o":0.8598,"h":0.85983,"l":0.8594,"c":0.85944},
{"i":454,"o":0.85944,"h":0.85963,"l":0.8594,"c":0.85959},
{"i":455,"o":0.85959,"h":0.85978,"l":0.85955,"c":0.85966},
{"i":456,"o":0.85966,"h":0.85975,"l":0.85955,"c":0.85959},
{"i":457,"o":0.85959,"h":0.85974,"l":0.85955,"c":0.8597},
{"i":458,"o":0.8597,"h":0.85975,"l":0.85949,"c":0.85953},
{"i":459,"o":0.85953,"h":0.85956,"l":0.85943,"c":0.85947},
{"i":460,"o":0.85947,"h":0.85955,"l":0.85938,"c":0.85951},
{"i":461,"o":0.85951,"h":0.85959,"l":0.85941,"c":0.85945},
{"i":462,"o":0.85945,"h":0.85948,"l":0.85937,"c":0.85941},
{"i":463,"o":0.85941,"h":0.85944,"l":0.85933,"c":0.85937},
{"i":464,"o":0.85937,"h":0.85959,"l":0.85931,"c":0.85942},
{"i":465,"o":0.85942,"h":0.85945,"l":0.8593,"c":0.85934},
{"i":466,"o":0.85934,"h":0.85944,"l":0.85924,"c":0.85931},
{"i":467,"o":0.85931,"h":0.85934,"l":0.85922,"c":0.85929}
]},
"layer":[
{"mark":{"type":"rule","strokeWidth":1},
 "encoding":{
  "x":{"field":"i","type":"quantitative","scale":{"domain":[-36.9,472.7],"nice":false,"zero":false},
   "axis":{"title":null,"values":[0,48,96,144,192,240,288,336,384,428,467],"labelPadding":5,
    "labelExpr":"datum.value==0?'8':datum.value==96?'9':datum.value==192?'10':datum.value==288?'11':datum.value==384?'12':datum.value==428?'11:00':datum.value==467?'20:45':'12:00'",
    "labelFontWeight":{"condition":{"test":"datum.value % 96 == 0","value":"bold"},"value":"normal"},
    "labelColor":{"condition":{"test":"datum.value % 96 == 0","value":"#333333"},"value":"#777777"}}},
  "y":{"field":"l","type":"quantitative","scale":{"domain":[0.858452,0.86363],"nice":false,"zero":false},
   "axis":{"title":null,"orient":"right","values":[0.8585,0.859,0.8595,0.86,0.8605,0.861,0.8615,0.862,0.8625,0.863,0.8635],"format":".4f","labelColor":"#555555","labelPadding":7}},
  "y2":{"field":"h"},
  "color":{"condition":[{"test":"datum.o == datum.c","value":"#1a1a1a"},{"test":"datum.c > datum.o","value":"#30896f"}],"value":"#d65442"}
 }},
{"mark":{"type":"bar","size":2.4,"strokeWidth":1},
 "encoding":{
  "x":{"field":"i","type":"quantitative",
   "axis":{"title":null,"values":[0,48,96,144,192,240,288,336,384,428,467],"labelPadding":5,
    "labelExpr":"datum.value==0?'8':datum.value==96?'9':datum.value==192?'10':datum.value==288?'11':datum.value==384?'12':datum.value==428?'11:00':datum.value==467?'20:45':'12:00'",
    "labelFontWeight":{"condition":{"test":"datum.value % 96 == 0","value":"bold"},"value":"normal"},
    "labelColor":{"condition":{"test":"datum.value % 96 == 0","value":"#333333"},"value":"#777777"}}},
  "y":{"field":"o","type":"quantitative",
   "axis":{"title":null,"orient":"right","values":[0.8585,0.859,0.8595,0.86,0.8605,0.861,0.8615,0.862,0.8625,0.863,0.8635],"format":".4f","labelColor":"#555555","labelPadding":7}},
  "y2":{"field":"c"},
  "color":{"condition":[{"test":"datum.o == datum.c","value":"#1a1a1a"},{"test":"datum.c > datum.o","value":"#30896f"}],"value":"#d65442"},
  "stroke":{"condition":{"test":"datum.o == datum.c","value":"#1a1a1a"},"value":"transparent"}
 }},
{"mark":{"type":"rule","strokeWidth":1},
 "encoding":{
  "y":{"datum":0.85929,"type":"quantitative",
   "axis":{"title":null,"orient":"right","values":[0.8585,0.859,0.8595,0.86,0.8605,0.861,0.8615,0.862,0.8625,0.863,0.8635],"format":".4f","labelColor":"#555555","labelPadding":7}},
  "color":{"datum":"EUR/GBP","type":"nominal","scale":{"range":["#2b3f66"]},
   "legend":{"title":null,"orient":"top-left","offset":5,"fillColor":"#666666","padding":5,"labelColor":"#ffffff","labelFontSize":11,"labelFont":"Liberation Sans","symbolSize":0,"symbolOpacity":0,"symbolStrokeWidth":0,"labelOffset":-3,"cornerRadius":0,"labelExpr":"datum.label + '\u00a0\u00a0\u00a0\u00a0\u00a0\u200b'"}}
 }},
{"mark":{"type":"point","shape":"M-1,0L-0.806,-0.28L1,-0.28L1,0.28L-0.806,0.28Z","size":2343,"filled":true,"opacity":1,"color":"#2b3f66","clip":false},
 "encoding":{
  "x":{"datum":482.6,"type":"quantitative",
   "axis":{"title":null,"values":[0,48,96,144,192,240,288,336,384,428,467],"labelPadding":5,
    "labelExpr":"datum.value==0?'8':datum.value==96?'9':datum.value==192?'10':datum.value==288?'11':datum.value==384?'12':datum.value==428?'11:00':datum.value==467?'20:45':'12:00'",
    "labelFontWeight":{"condition":{"test":"datum.value % 96 == 0","value":"bold"},"value":"normal"},
    "labelColor":{"condition":{"test":"datum.value % 96 == 0","value":"#333333"},"value":"#777777"}}},
  "y":{"datum":0.85929,"type":"quantitative",
   "axis":{"title":null,"orient":"right","values":[0.8585,0.859,0.8595,0.86,0.8605,0.861,0.8615,0.862,0.8625,0.863,0.8635],"format":".4f","labelColor":"#555555","labelPadding":7}}
 }},
{"mark":{"type":"text","color":"#ffffff","fontWeight":"bold","fontSize":11,"align":"center","baseline":"middle","clip":false,"font":"Liberation Sans"},
 "encoding":{
  "x":{"datum":483.6,"type":"quantitative",
   "axis":{"title":null,"values":[0,48,96,144,192,240,288,336,384,428,467],"labelPadding":5,
    "labelExpr":"datum.value==0?'8':datum.value==96?'9':datum.value==192?'10':datum.value==288?'11':datum.value==384?'12':datum.value==428?'11:00':datum.value==467?'20:45':'12:00'",
    "labelFontWeight":{"condition":{"test":"datum.value % 96 == 0","value":"bold"},"value":"normal"},
    "labelColor":{"condition":{"test":"datum.value % 96 == 0","value":"#333333"},"value":"#777777"}}},
  "y":{"datum":0.85929,"type":"quantitative",
   "axis":{"title":null,"orient":"right","values":[0.8585,0.859,0.8595,0.86,0.8605,0.861,0.8615,0.862,0.8625,0.863,0.8635],"format":".4f","labelColor":"#555555","labelPadding":7}},
  "text":{"value":"0.85929"}
 }}
]
}
